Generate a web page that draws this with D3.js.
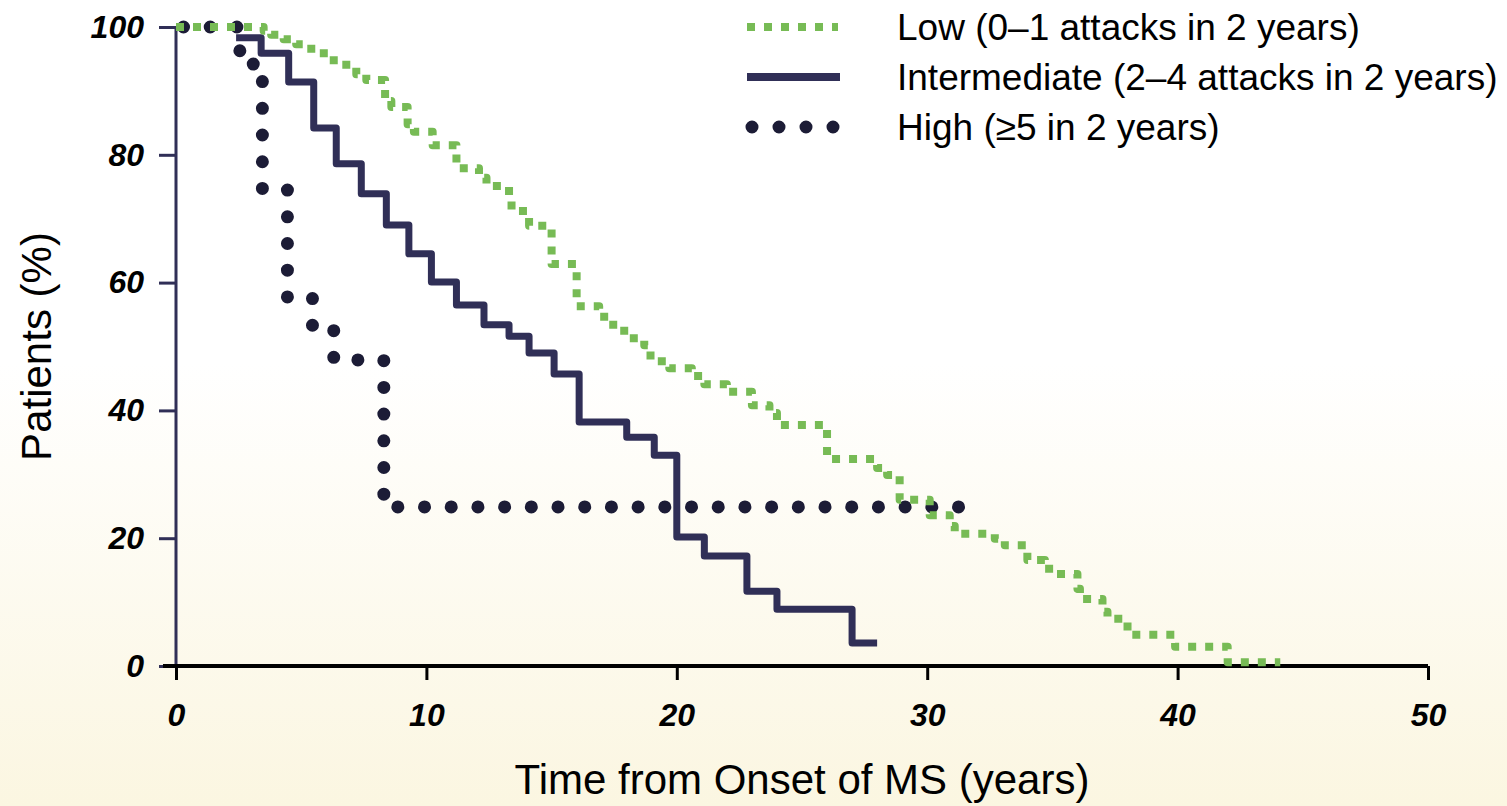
<!DOCTYPE html>
<html>
<head>
    <meta charset="utf-8">
    <title>Time from Onset of MS by attack frequency</title>
    <script src="https://cdn.jsdelivr.net/npm/d3@7"></script>
    <style>
        body {
            margin: 0;
            background: #fff;
        }
        text {
            font-family: "Liberation Sans", Arial, sans-serif;
        }
        .tick text {
            font-weight: bold;
            font-style: italic;
            font-size: 32px;
            fill: #000;
        }
    </style>
</head>
<body>
    <div id="chart"></div>
    <script>
        // step curves: time (years) where each level starts, % of patients
        const lowTimes = [0, 3.5, 3.8, 4.3, 4.8, 5.2, 5.6, 6.3, 7.2, 7.6, 8.35, 8.6, 9.25, 9.5, 10.25, 11.2, 12.1, 12.4,
            13.3, 13.4, 14.1, 15.0, 16.0, 16.9, 17.1, 17.9, 18.7, 18.95, 19.7, 20.6, 21.1, 22.0, 23.0, 23.7, 24.0,
            26.0, 28.0, 28.4, 28.9, 30.1, 30.9, 31.1, 32.7, 33.1, 34.0, 34.7, 35.1, 36.0, 36.1, 37.0, 37.2, 38.0,
            39.9, 42.0];
        const lowValues = [100, 99.4, 98.8, 98.1, 97.3, 96.6, 95.9, 94.1, 92.6, 91.7, 88.4, 87.5, 84.8, 83.6, 81.5, 77.9,
            76.4, 75.1, 72.9, 71.2, 68.9, 62.9, 56.3, 55.6, 53.4, 51.3, 50.2, 47.7, 46.6, 45.4, 44.1, 42.9, 40.8, 39.6,
            37.7, 32.4, 31.0, 29.9, 26.0, 23.6, 21.9, 20.7, 19.9, 18.9, 16.6, 15.2, 14.4, 12.1, 10.5, 8.5, 7.4, 4.9,
            3.0, 0.6];
        const lowEnd = 44.1;

        const midTimes = [2.4, 3.4, 4.5, 5.5, 6.4, 7.4, 8.4, 9.3, 10.2, 11.2, 12.3, 13.3, 14.1, 15.1, 16.1, 18.0,
            19.1, 20.0, 21.1, 22.8, 24.0, 27.0];
        const midValues = [98.3, 95.9, 91.4, 84.2, 78.6, 73.9, 69.0, 64.5, 60.1, 56.5, 53.4, 51.6, 49.0, 45.7, 38.2,
            35.8, 33.0, 20.2, 17.2, 11.7, 8.9, 3.6];
        const midEnd = 28.0;

        const highTimes = [0.3, 2.55, 3.45, 4.45, 5.45, 6.3, 8.3];
        const highValues = [100, 94.2, 74.5, 57.7, 53.2, 47.9, 24.9];
        const highEnd = 31.35;

        const xTicks = [0, 10, 20, 30, 40, 50];
        const yTicks = [0, 20, 40, 60, 80, 100];
        const legendLabels = ["Low (0\u20131 attacks in 2 years)", "Intermediate (2\u20134 attacks in 2 years)", "High (\u22655 in 2 years)"];

        const width = 1507;
        const height = 806;
        const green = "#77bb55";
        const navy = "#302f57";
        const darkNavy = "#1c1c36";

        const svg = d3.select("#chart")
            .append("svg")
            .attr("width", width)
            .attr("height", height);

        const defs = svg.append("defs");
        const bg = defs.append("linearGradient")
            .attr("id", "bg")
            .attr("x1", "0%").attr("y1", "0%")
            .attr("x2", "0%").attr("y2", "100%");
        bg.append("stop").attr("offset", "45%").style("stop-color", "#ffffff");
        bg.append("stop").attr("offset", "100%").style("stop-color", "#fbf6e1");

        svg.append("rect")
            .attr("width", width)
            .attr("height", height)
            .style("fill", "url(#bg)");

        const x = d3.scaleLinear().domain([0, 50]).range([176, 1428]);
        const y = d3.scaleLinear().domain([0, 100]).range([666, 27]);

        // y axis (navy)
        const yAxis = svg.append("g")
            .attr("transform", `translate(${x(0)},0)`)
            .call(d3.axisLeft(y).tickValues(yTicks).tickSizeInner(17).tickSizeOuter(0).tickPadding(15));
        yAxis.select(".domain").remove();
        yAxis.selectAll(".tick line").attr("stroke", navy).attr("stroke-width", 3);
        svg.append("line")
            .attr("x1", x(0)).attr("x2", x(0))
            .attr("y1", y(100)).attr("y2", y(0))
            .attr("stroke", navy).attr("stroke-width", 3);

        // x axis (black)
        const xAxis = svg.append("g")
            .attr("transform", `translate(0,${y(0)})`)
            .call(d3.axisBottom(x).tickValues(xTicks).tickSizeInner(14).tickSizeOuter(0).tickPadding(23));
        xAxis.select(".domain").remove();
        xAxis.selectAll(".tick line").attr("stroke", "#000").attr("stroke-width", 3);
        svg.append("line")
            .attr("x1", x(0) - 13).attr("x2", x(50))
            .attr("y1", y(0)).attr("y2", y(0))
            .attr("stroke", "#000").attr("stroke-width", 4);

        function stepPoints(times, values, end) {
            const pts = times.map((t, i) => [t, values[i]]);
            pts.push([end, values[values.length - 1]]);
            return pts;
        }

        const line = d3.line()
            .x(d => x(d[0]))
            .y(d => y(d[1]))
            .curve(d3.curveStepAfter);

        // high: round dots
        svg.append("path")
            .attr("d", line(stepPoints(highTimes, highValues, highEnd)))
            .attr("fill", "none")
            .attr("stroke", darkNavy)
            .attr("stroke-width", 13)
            .attr("stroke-linecap", "round")
            .attr("stroke-linejoin", "round")
            .attr("stroke-dasharray", "0 26.7");

        // intermediate: solid
        svg.append("path")
            .attr("d", line(stepPoints(midTimes, midValues, midEnd)))
            .attr("fill", "none")
            .attr("stroke", navy)
            .attr("stroke-width", 7)
            .attr("stroke-linejoin", "round");

        // low: green squares
        svg.append("path")
            .attr("d", line(stepPoints(lowTimes, lowValues, lowEnd)))
            .attr("fill", "none")
            .attr("stroke", green)
            .attr("stroke-width", 8)
            .attr("stroke-linejoin", "round")
            .attr("stroke-dasharray", "8 9");

        // legend
        const legend = svg.append("g");
        legend.append("line")
            .attr("x1", 747).attr("x2", 838).attr("y1", 27).attr("y2", 27)
            .attr("stroke", green).attr("stroke-width", 8).attr("stroke-dasharray", "8 9");
        legend.append("line")
            .attr("x1", 747).attr("x2", 840).attr("y1", 77).attr("y2", 77)
            .attr("stroke", navy).attr("stroke-width", 8);
        legend.append("line")
            .attr("x1", 752).attr("x2", 834).attr("y1", 127).attr("y2", 127)
            .attr("stroke", darkNavy).attr("stroke-width", 13)
            .attr("stroke-linecap", "round").attr("stroke-dasharray", "0 27");
        legend.selectAll("text.leg")
            .data(legendLabels)
            .enter()
            .append("text")
            .attr("class", "leg")
            .attr("x", 897)
            .attr("y", (d, i) => 27 + i * 50 + 13)
            .style("font-size", "37px")
            .style("fill", "#000")
            .text(d => d);

        // axis titles
        svg.append("text")
            .attr("x", (x(0) + x(50)) / 2)
            .attr("y", 794)
            .attr("text-anchor", "middle")
            .style("font-size", "42px")
            .text("Time from Onset of MS (years)");

        svg.append("text")
            .attr("transform", `translate(51,${(y(0) + y(100)) / 2}) rotate(-90)`)
            .attr("text-anchor", "middle")
            .style("font-size", "42px")
            .text("Patients (%)");
    </script>
</body>
</html>
